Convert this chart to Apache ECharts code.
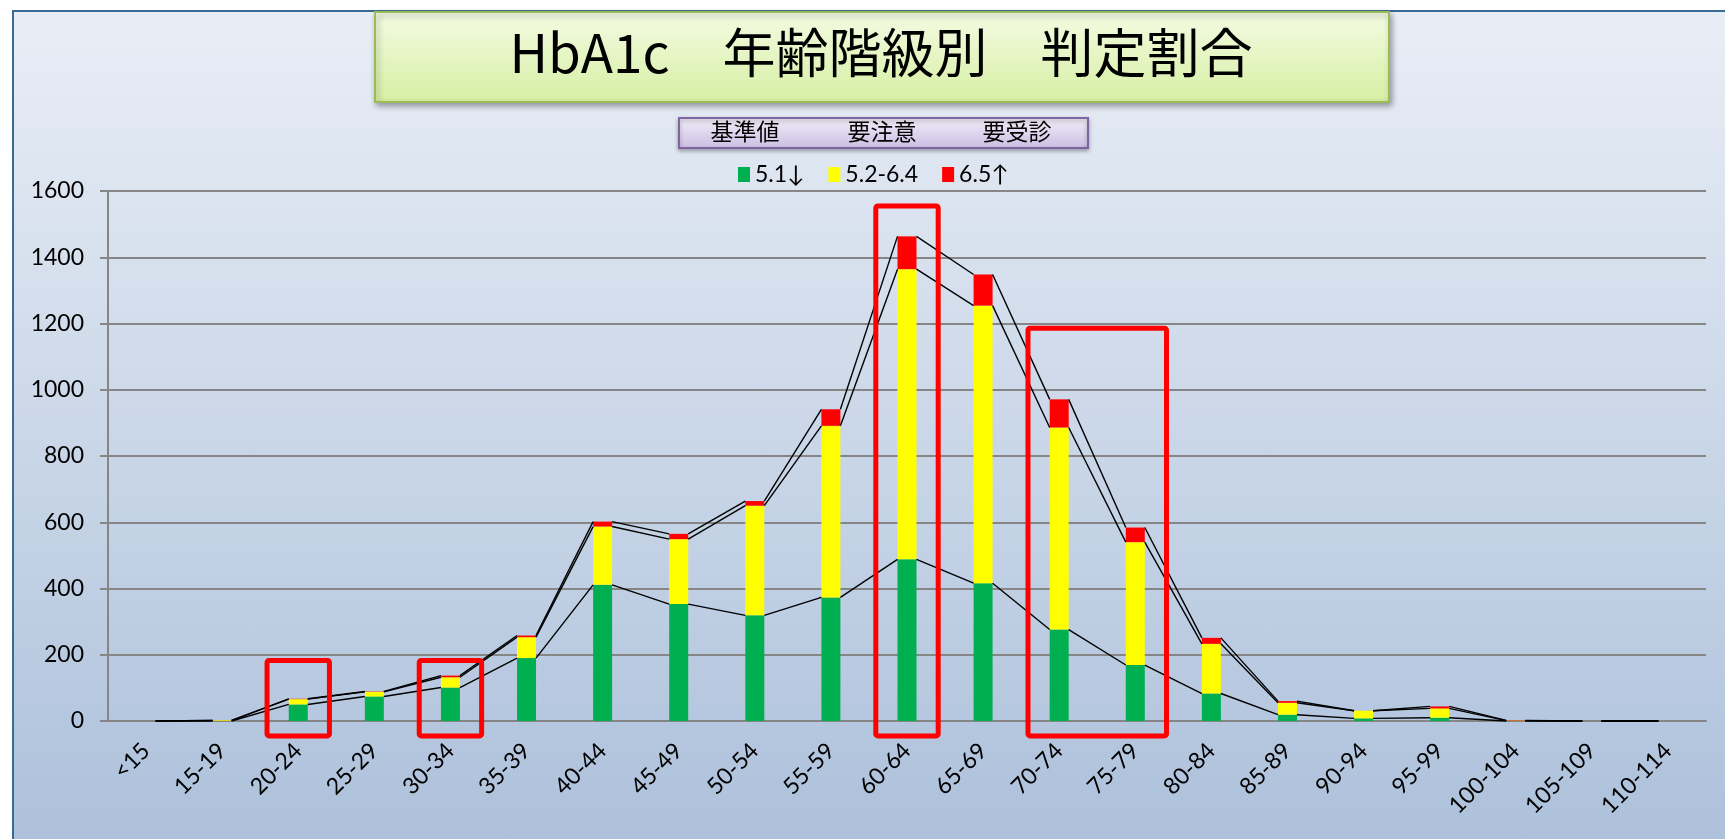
<!DOCTYPE html>
<html>
<head>
<meta charset="utf-8">
<script src="https://cdn.jsdelivr.net/npm/echarts@6/dist/echarts.min.js"></script>
<style>
  html, body { margin: 0; padding: 0; background: #fff; }
  #frame {
    position: absolute; left: 12px; top: 10px; width: 1713px; height: 829px;
    border-left: 2px solid #386b96; border-top: 2px solid #386b96;
    box-sizing: border-box;
    background: linear-gradient(#e9eef6, #adc1db);
  }
  #chart { position: absolute; left: 0; top: 0; width: 1725px; height: 839px; }
</style>
</head>
<body>
<div id="frame"></div>
<div id="chart"></div>
<script>
// age bands
const categories = ['<15', '15-19', '20-24', '25-29', '30-34', '35-39', '40-44', '45-49', '50-54', '55-59',
  '60-64', '65-69', '70-74', '75-79', '80-84', '85-89', '90-94', '95-99', '100-104', '105-109', '110-114']

// HbA1c counts per band
const normal = [0, 0, 50, 74, 101, 190, 411, 353, 319, 373, 488, 416, 276, 169, 83, 19, 8, 10, 0, 0, 0]      // 5.1↓
const caution = [0, 2, 16, 14, 31, 63, 176, 196, 331, 518, 876, 838, 610, 371, 150, 36, 23, 28, 1, 0, 0]   // 5.2-6.4
const consult = [0, 0, 1, 1, 5, 5, 15, 16, 14, 50, 99, 94, 85, 44, 18, 5, 0, 6, 1, 0, 0]                  // 6.5↑

const seriesNames = ['5.1↓', '5.2-6.4', '6.5↑']
const yTicks = { min: 0, max: 1600, interval: 200 }

// highlighted bands: [first index, last index, low value, high value]
const boxes = [[2, 2, -45, 183], [4, 4, -45, 183], [10, 10, -45, 1555], [12, 13, -45, 1186]]

const BAR_WIDTH = 19
const FONT = 'Lato, "Noto Sans", sans-serif'
const JP = '"Noto Sans CJK JP", sans-serif'

const topGreen = normal.slice()
const topYellow = normal.map((v, i) => v + caution[i])
const topRed = topYellow.map((v, i) => v + consult[i])
const seriesLines = categories.slice(0, -1).map((_, i) =>
  [i, topGreen[i], topYellow[i], topRed[i], topGreen[i + 1], topYellow[i + 1], topRed[i + 1]])

const chart = echarts.init(document.getElementById('chart'))

chart.setOption({
  animation: false,
  backgroundColor: 'transparent',
  grid: { left: 108, right: 19, top: 191, bottom: 118 },
  legend: {
    data: seriesNames,
    left: 733,
    top: 158,
    icon: 'rect',
    itemWidth: 12,
    itemHeight: 15,
    itemGap: 24,
    textStyle: { fontFamily: FONT, fontSize: 23, color: '#000' }
  },
  graphic: [
    {
      type: 'rect', left: 374, top: 11, z: 10,
      shape: { width: 1014, height: 90 },
      style: {
        fill: new echarts.graphic.LinearGradient(0, 0, 0, 1, [
          { offset: 0, color: '#f4fbe4' }, { offset: 1, color: '#d6efa2' }
        ]),
        stroke: '#9bbb59', lineWidth: 2,
        shadowBlur: 6, shadowOffsetX: 2, shadowOffsetY: 3, shadowColor: 'rgba(0,0,0,0.35)'
      }
    },
    {
      type: 'text', x: 881, y: 53, z: 11,
      style: {
        text: 'HbA1c　年齢階級別　判定割合', fill: '#000',
        font: '53px ' + JP, align: 'center', verticalAlign: 'middle'
      }
    },
    {
      type: 'rect', left: 678, top: 117, z: 10,
      shape: { width: 409, height: 30 },
      style: {
        fill: new echarts.graphic.LinearGradient(0, 0, 0, 1, [
          { offset: 0, color: '#f2eef8' }, { offset: 1, color: '#cbbde3' }
        ]),
        stroke: '#8064a2', lineWidth: 2,
        shadowBlur: 4, shadowOffsetY: 2, shadowColor: 'rgba(0,0,0,0.3)'
      }
    },
    { type: 'text', x: 745, y: 131, z: 11, style: { text: '基準値', font: '23px ' + JP, fill: '#000', align: 'center', verticalAlign: 'middle' } },
    { type: 'text', x: 882, y: 131, z: 11, style: { text: '要注意', font: '23px ' + JP, fill: '#000', align: 'center', verticalAlign: 'middle' } },
    { type: 'text', x: 1017, y: 131, z: 11, style: { text: '要受診', font: '23px ' + JP, fill: '#000', align: 'center', verticalAlign: 'middle' } }
  ],
  xAxis: {
    type: 'category',
    data: categories,
    axisLine: { lineStyle: { color: '#868686', width: 2 } },
    axisTick: { show: false },
    axisLabel: { interval: 0, rotate: 45, margin: 26, color: '#000', fontFamily: FONT, fontSize: 23 }
  },
  yAxis: {
    type: 'value',
    ...yTicks,
    axisLine: { show: true, lineStyle: { color: '#868686', width: 2 } },
    axisTick: { show: true, length: 8, lineStyle: { color: '#868686', width: 2 } },
    axisLabel: { margin: 24, color: '#000', fontFamily: FONT, fontSize: 23, formatter: v => String(v) },
    splitLine: { lineStyle: { color: '#868686', width: 2 } }
  },
  series: [
    { name: seriesNames[0], type: 'bar', stack: 'hba1c', barWidth: BAR_WIDTH, data: normal, itemStyle: { color: '#00b050' } },
    { name: seriesNames[1], type: 'bar', stack: 'hba1c', barWidth: BAR_WIDTH, data: caution, itemStyle: { color: '#ffff00' } },
    { name: seriesNames[2], type: 'bar', stack: 'hba1c', barWidth: BAR_WIDTH, data: consult, itemStyle: { color: '#ff0000' } },
    {
      // Excel-style series lines joining the stack tops of neighbouring bars
      type: 'custom',
      data: seriesLines,
      encode: { x: 0, y: 1 },
      z: 5,
      silent: true,
      renderItem(params, api) {
        const i = api.value(0)
        const half = BAR_WIDTH / 2
        const children = []
        for (let k = 0; k < 3; k++) {
          const a = api.coord([i, api.value(1 + k)])
          const b = api.coord([i + 1, api.value(4 + k)])
          children.push({
            type: 'line',
            shape: { x1: a[0] + half, y1: a[1], x2: b[0] - half, y2: b[1] },
            style: { stroke: '#000', lineWidth: 1.4 }
          })
        }
        return { type: 'group', children }
      }
    },
    {
      type: 'custom',
      data: boxes,
      encode: { x: 0, y: 3 },
      z: 6,
      silent: true,
      clip: false,
      renderItem(params, api) {
        const band = api.size([1, 0])[0]
        const tl = api.coord([api.value(0), api.value(3)])
        const br = api.coord([api.value(1), api.value(2)])
        const x1 = tl[0] - band * 0.41
        const x2 = br[0] + band * 0.41
        return {
          type: 'rect',
          shape: { x: x1, y: tl[1], width: x2 - x1, height: br[1] - tl[1], r: 2 },
          style: { fill: 'none', stroke: '#ff0000', lineWidth: 5 }
        }
      }
    }
  ]
})
</script>
</body>
</html>
